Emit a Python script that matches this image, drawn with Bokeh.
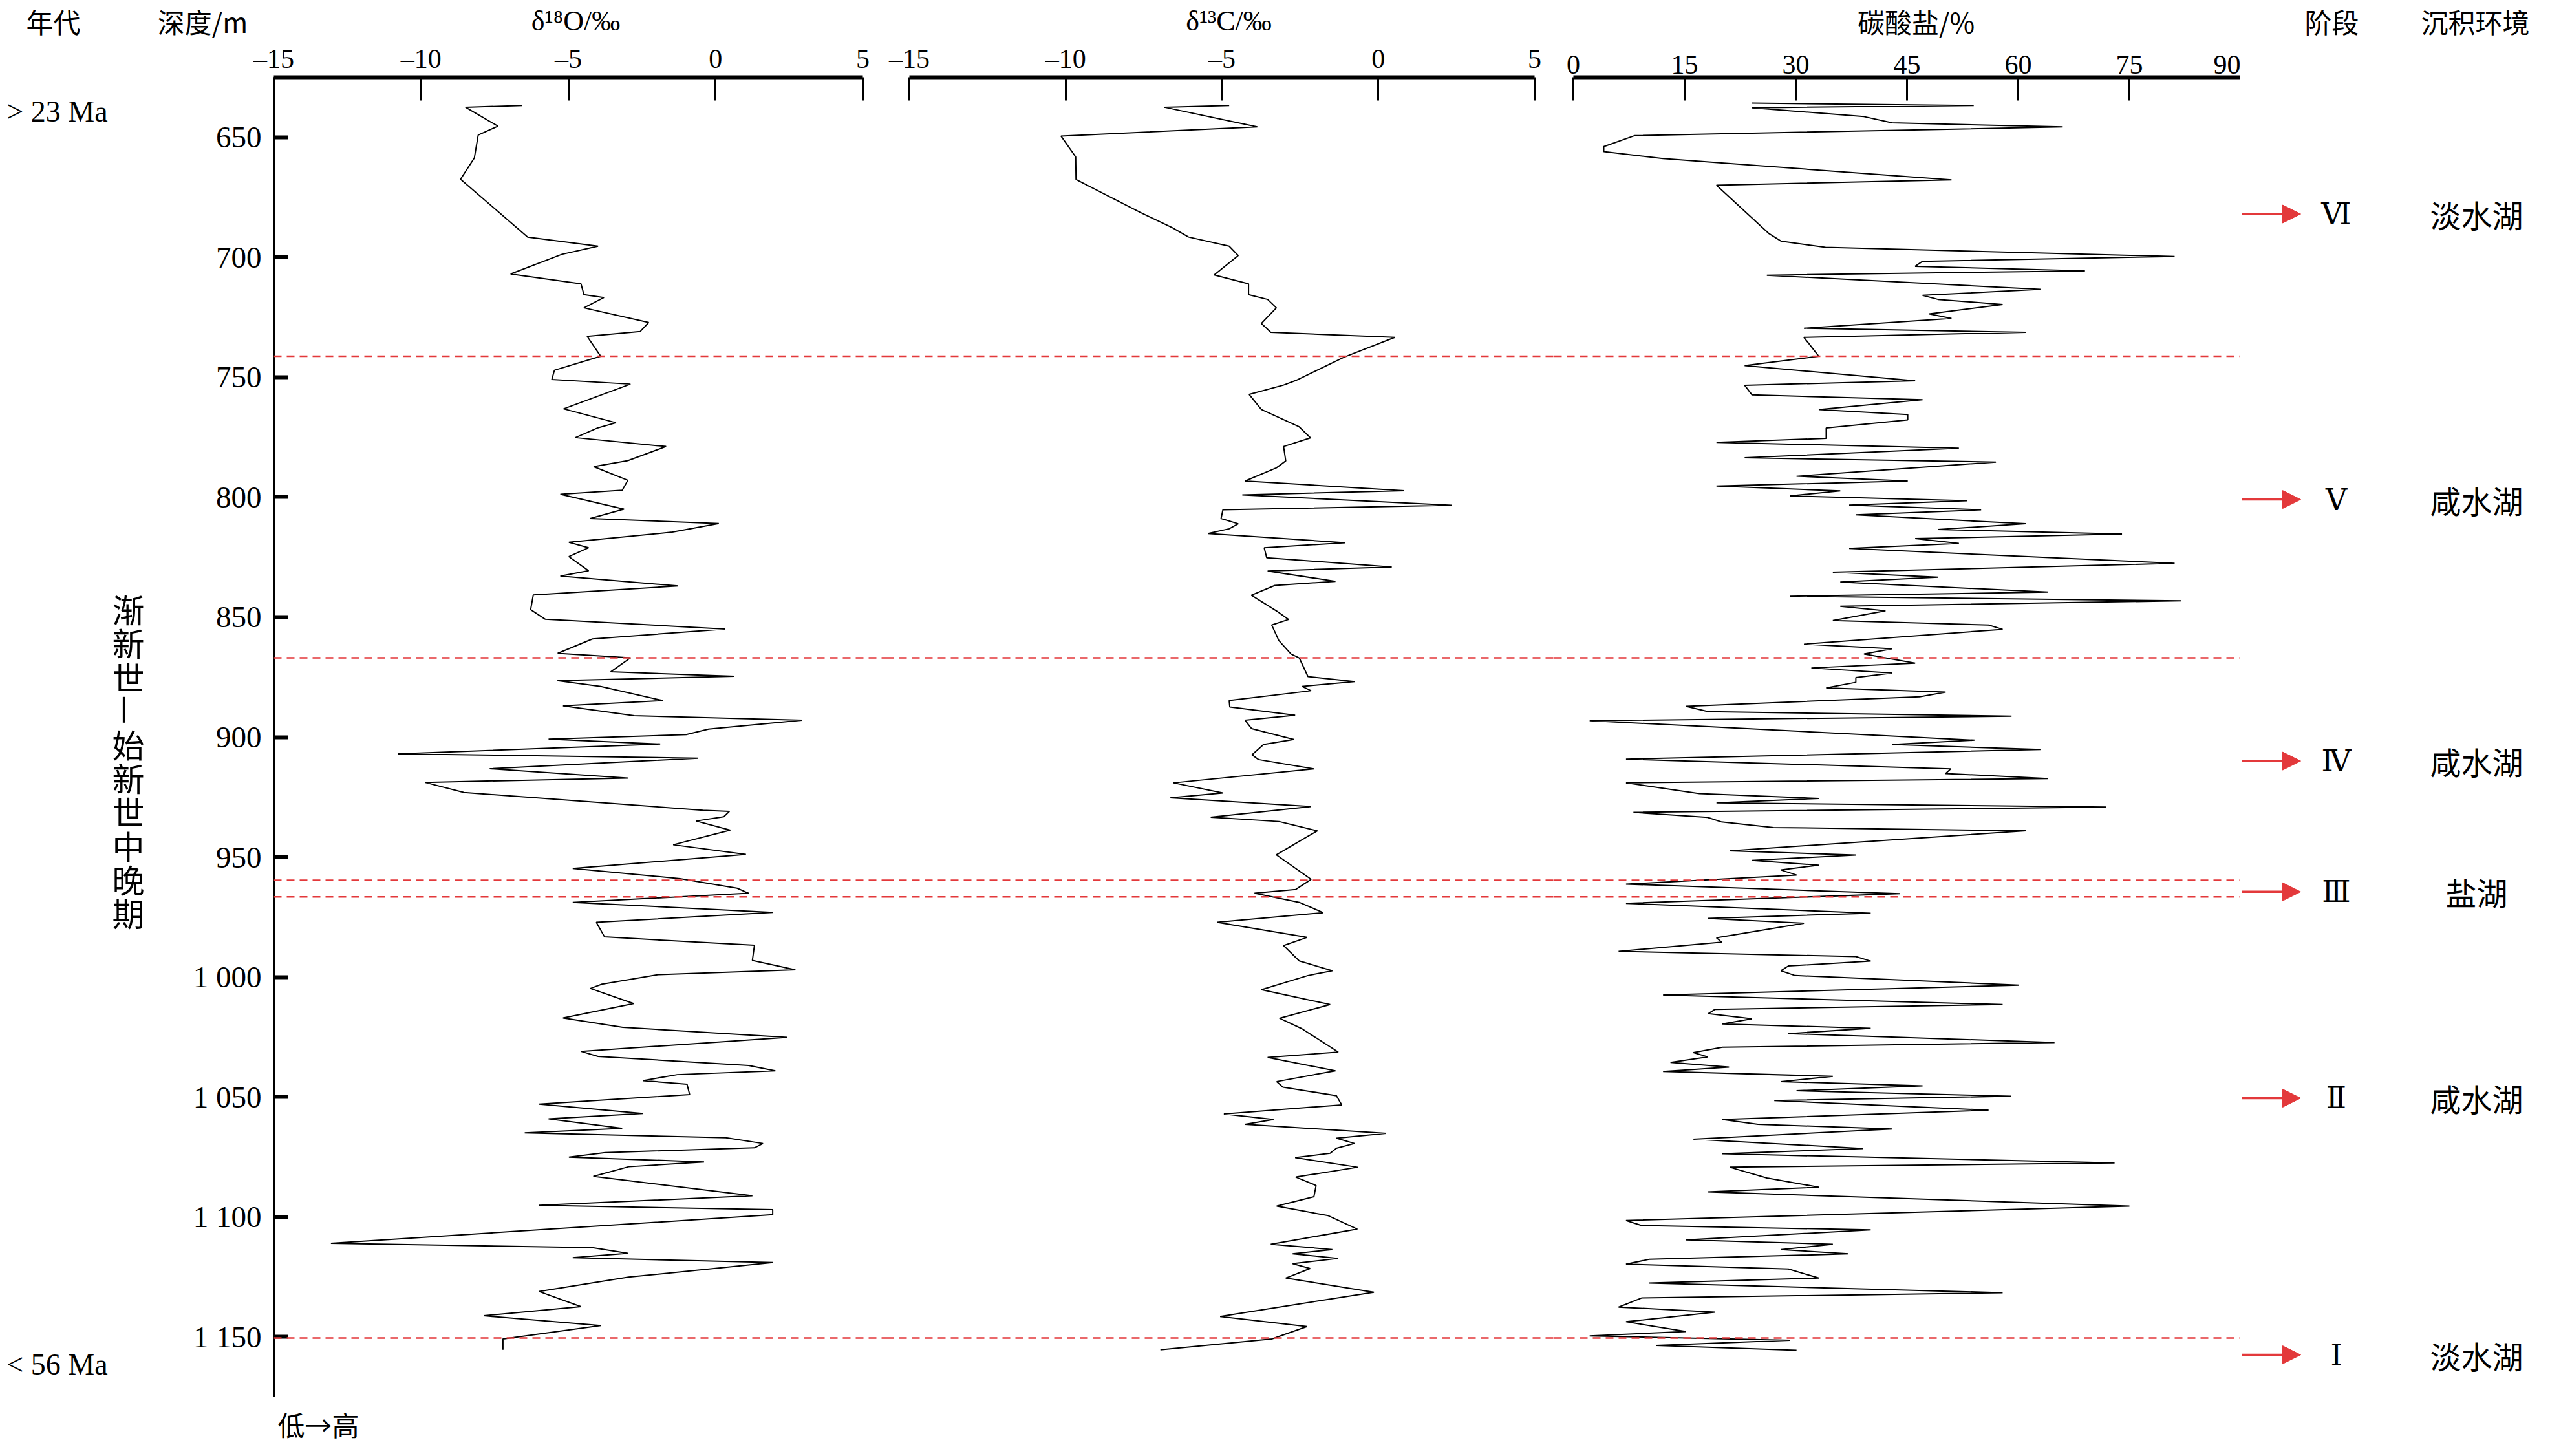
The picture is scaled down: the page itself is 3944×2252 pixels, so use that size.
import math
from bokeh.plotting import figure
from bokeh.layouts import row, column
from bokeh.models import Range1d, FixedTicker, Span, Arrow, NormalHead, ColumnDataSource
from bokeh.core.properties import value
from bokeh.embed import file_html
from bokeh.resources import INLINE

# ---------------- data ----------------
o18_depth = [636.8, 637.5, 645.4, 649.1, 658.6, 667.5, 691.6, 695.4, 698.8, 707.0, 711.1, 715.6, 716.8, 721.1,
             727.2, 731.0, 733.0, 741.3, 747.1, 751.0, 752.9, 763.2, 769.0, 771.1, 775.2, 778.9, 784.8, 787.3,
             793.0, 797.1, 798.8, 805.0, 808.9, 811.0, 814.6, 818.8, 821.1, 824.8, 830.7, 832.9, 837.0, 840.8,
             846.9, 850.9, 855.0, 859.1, 865.1, 867.0, 872.8, 874.7, 876.5, 878.9, 884.8, 887.0, 891.1, 893.0,
             896.7, 899.0, 900.9, 902.9, 907.0, 908.8, 913.2, 917.1, 918.9, 923.1, 930.5, 931.0, 933.2, 935.0,
             938.8, 944.9, 948.9, 954.8, 959.0, 963.0, 965.1, 968.9, 973.1, 977.2, 983.3, 986.8, 993.1, 997.0,
             999.0, 1003.0, 1004.8, 1011.1, 1017.1, 1021.0, 1025.2, 1031.0, 1033.1, 1036.9, 1039.1, 1040.7,
             1043.2, 1044.7, 1049.0, 1053.0, 1056.9, 1059.1, 1063.1, 1065.0, 1067.0, 1069.4, 1071.2, 1073.2,
             1075.1, 1077.1, 1079.1, 1083.1, 1091.2, 1095.2, 1097.0, 1099.1, 1111.0, 1112.8, 1115.2, 1117.0,
             1119.0, 1125.1, 1131.1, 1137.4, 1141.2, 1145.3, 1150.9, 1155.4]
o18 = [-6.57, -8.49, -7.39, -8.06, -8.19, -8.66, -6.38, -3.99, -5.22, -6.96, -4.57, -4.47, -3.79, -4.47,
       -2.27, -2.56, -4.36, -3.90, -5.47, -5.56, -2.89, -5.16, -3.38, -3.99, -4.76, -1.68, -2.98, -4.14,
       -2.98, -3.17, -5.27, -3.11, -4.26, 0.11, -1.47, -4.98, -4.31, -4.98, -4.31, -5.27, -1.27, -6.19,
       -6.28, -5.78, 0.33, -4.18, -5.36, -2.89, -3.56, 0.63, -5.37, -3.90, -1.79, -5.18, -2.76, 2.93,
       -0.24, -1.00, -5.67, -1.88, -10.78, -0.59, -7.67, -2.98, -9.87, -8.54, -0.43, 0.47, 0.28, -0.66,
       0.50, -1.44, 1.03, -4.85, -1.21, 0.73, 1.12, -4.85, 1.94, -4.05, -3.77, 1.32, 1.25, 2.71,
       -1.92, -3.86, -4.25, -2.78, -5.18, -3.15, 2.44, -4.57, -3.99, 1.12, 2.03, -1.30,
       -2.47, -0.97, -0.88, -5.99, -2.47, -5.67, -3.17, -6.48, 0.35, 1.61, 1.32, -3.75,
       -4.98, -0.39, -2.95, -4.15, 1.25, -5.99, 1.94, 1.94, -13.06, -4.18, -2.98, -4.85,
       1.94, -2.95, -5.99, -4.57, -7.87, -3.90, -7.22, -7.22]

c13_depth = [636.8, 637.5, 645.7, 649.5, 658.2, 667.6, 675.7, 681.3, 687.7, 691.6, 695.4, 699.3, 707.4, 711.1,
             715.6, 717.6, 721.1, 727.6, 731.3, 733.4, 741.6, 751.4, 753.3, 757.2, 763.5, 770.7, 775.3, 778.9,
             784.9, 787.8, 793.3, 797.3, 799.1, 803.4, 805.3, 808.9, 811.1, 813.2, 815.2, 819.0, 821.1, 825.3,
             829.1, 830.8, 835.1, 836.8, 840.9, 847.4, 851.0, 853.3, 859.8, 865.4, 867.0, 874.8, 876.9, 878.9,
             880.7, 884.8, 887.5, 890.9, 893.0, 896.5, 898.0, 901.0, 903.1, 907.4, 909.4, 913.3, 919.1, 923.3,
             925.3, 929.0, 933.4, 935.2, 939.1, 941.8, 949.1, 959.3, 963.5, 965.1, 968.9, 973.2, 977.2, 983.5,
             986.9, 993.3, 997.4, 999.4, 1005.3, 1011.5, 1017.2, 1021.6, 1031.3, 1033.5, 1039.1, 1043.6, 1045.9,
             1049.5, 1053.3, 1057.1, 1059.4, 1061.4, 1065.2, 1067.2, 1069.4, 1071.4, 1073.5, 1075.3, 1079.3,
             1083.4, 1086.9, 1091.6, 1095.5, 1099.5, 1105.1, 1111.4, 1113.6, 1115.4, 1117.3, 1119.5, 1121.5,
             1125.5, 1131.4, 1141.5, 1145.7, 1150.9, 1155.4]
c13 = [-4.77, -6.84, -3.87, -10.15, -9.68, -9.67, -8.46, -7.62, -6.59, -6.07, -4.77, -4.48, -5.25, -4.15,
       -4.15, -3.54, -3.26, -3.74, -3.44, 0.53, -1.08, -2.64, -3.03, -4.13, -3.74, -2.53, -2.17, -3.03,
       -2.96, -3.26, -4.26, 0.83, -4.35, 2.35, -4.97, -5.03, -4.48, -4.77, -5.45, -1.06, -3.65, -3.57,
       0.43, -3.54, -1.37, -3.31, -4.06, -3.26, -2.87, -3.41, -3.18, -2.79, -2.53, -2.25, -0.76, -2.44,
       -2.15, -4.77, -4.75, -2.66, -4.26, -4.05, -3.61, -2.70, -3.67, -4.04, -3.83, -2.06, -6.55, -4.97,
       -6.65, -2.15, -5.36, -3.18, -1.95, -2.31, -3.26, -2.15, -2.64, -3.96, -2.53, -1.76, -5.16, -2.28,
       -3.03, -2.53, -1.47, -2.25, -3.74, -1.54, -3.16, -2.44, -1.28, -3.54, -1.37, -3.25, -3.05,
       -1.34, -1.17, -4.94, -3.35, -4.26, 0.25, -1.34, -0.76, -1.34, -1.54, -2.66, -0.66,
       -2.64, -1.99, -2.06, -3.25, -1.60, -0.67, -3.44, -1.47, -2.74, -1.28, -2.74, -2.18,
       -2.96, -0.14, -5.06, -2.28, -3.41, -6.97]

carb_depth = [635.8, 636.8, 637.7, 641.4, 644.0, 645.7, 649.3, 653.9, 656.0, 658.9, 667.8, 670.0, 690.2, 693.3,
              695.9, 699.7, 701.7, 703.8, 705.7, 707.5, 713.4, 715.9, 717.6, 719.7, 723.6, 725.5, 729.6, 731.3,
              733.4, 741.3, 745.2, 751.5, 753.4, 757.4, 759.4, 763.5, 765.6, 767.8, 771.2, 775.5, 777.2, 779.6,
              783.6, 785.4, 791.3, 793.3, 795.4, 797.4, 799.5, 801.5, 803.3, 805.3, 807.4, 811.1, 813.5, 815.4,
              817.3, 819.3, 821.4, 827.6, 831.3, 833.4, 835.4, 839.6, 841.3, 843.2, 845.5, 847.4, 851.4, 853.3,
              855.1, 861.3, 863.2, 865.4, 869.2, 871.2, 873.3, 875.2, 877.2, 879.5, 881.3, 883.2, 887.2, 889.4,
              891.3, 893.2, 901.3, 903.1, 905.2, 909.2, 913.3, 915.2, 917.3, 919.1, 923.6, 925.6, 927.4, 929.2,
              931.4, 933.5, 935.4, 937.7, 939.1, 947.4, 949.2, 951.4, 953.4, 955.4, 957.5, 961.3, 965.3, 969.3,
              973.4, 975.6, 977.6, 983.7, 985.5, 989.3, 991.5, 993.4, 995.4, 997.4, 999.4, 1003.4, 1007.5,
              1011.5, 1013.5, 1015.3, 1017.4, 1019.6, 1021.4, 1023.6, 1027.3, 1029.3, 1031.5, 1033.3, 1035.6,
              1037.6, 1039.4, 1041.4, 1043.6, 1045.4, 1047.4, 1049.7, 1051.5, 1055.5, 1059.4, 1061.4, 1063.4,
              1067.6, 1071.5, 1073.7, 1077.5, 1079.3, 1083.8, 1087.6, 1089.6, 1095.5, 1101.5, 1103.6, 1105.4,
              1109.6, 1111.4, 1113.6, 1115.4, 1117.7, 1119.7, 1121.7, 1125.5, 1127.6, 1131.6, 1133.8, 1137.6,
              1139.7, 1143.7, 1147.8, 1149.6, 1151.4, 1153.6, 1155.6]
carb = [24.1, 54.0, 24.1, 39.2, 43.0, 66.0, 8.3, 4.1, 4.1, 12.1, 51.0, 19.3, 26.4, 28.0,
        34.0, 81.1, 47.1, 46.1, 69.0, 26.1, 63.0, 47.1, 49.2, 57.9, 48.0, 51.0, 31.1, 61.0,
        31.1, 33.1, 23.1, 46.1, 23.1, 24.1, 47.1, 33.1, 45.1, 45.1, 34.1, 34.1, 19.3, 52.0,
        23.1, 57.0, 30.1, 45.1, 19.3, 36.0, 29.2, 53.1, 37.2, 55.0, 38.1, 61.0, 49.2, 74.0,
        46.1, 52.0, 37.2, 81.1, 35.0, 49.2, 36.0, 64.0, 29.2, 82.0, 36.0, 42.1, 35.0, 56.0,
        57.9, 31.1, 43.0, 39.2, 46.1, 32.1, 43.0, 38.1, 38.1, 34.1, 50.2, 46.7, 15.2, 18.2,
        59.1, 2.2, 54.1, 43.0, 63.0, 7.1, 50.9, 50.2, 64.0, 7.1, 17.0, 33.1, 19.3, 71.9,
        8.1, 18.1, 20.0, 27.0, 61.0, 21.1, 38.1, 24.1, 33.1, 28.0, 30.1, 7.1, 44.0, 7.1,
        40.1, 18.1, 31.1, 19.3, 20.0, 6.1, 38.1, 40.1, 29.0, 28.0, 29.9, 60.1, 12.1,
        57.9, 19.1, 18.2, 24.1, 20.1, 40.1, 29.0, 64.9, 20.1, 16.2, 18.1, 13.1,
        21.0, 12.1, 35.0, 28.0, 47.1, 30.1, 59.0, 27.1, 56.0, 20.1, 24.9, 43.0,
        16.2, 39.1, 20.1, 73.0, 21.1, 26.1, 33.1, 18.1, 75.0, 7.1, 9.2, 40.1,
        15.2, 35.0, 28.0, 37.1, 10.2, 7.1, 29.0, 33.1, 10.2, 57.9, 9.2, 6.1,
        19.1, 7.1, 15.2, 2.2, 29.2, 11.2, 30.1]

depth_ticks = [650, 700, 750, 800, 850, 900, 950, 1000, 1050, 1100, 1150]
iso_ticks = [-15, -10, -5, 0, 5]
carb_ticks = [0, 15, 30, 45, 60, 75, 90]
boundaries = [741.3, 867.0, 959.7, 966.6, 1150.5]
stages = ["Ⅵ", "Ⅴ", "Ⅳ", "Ⅲ", "Ⅱ", "Ⅰ"]
stage_depths = [682.0, 801.0, 910.0, 964.5, 1050.5, 1157.5]
environments = ["淡水湖", "咸水湖", "咸水湖", "盐湖", "咸水湖", "淡水湖"]
epoch_text = "渐新世—始新世中晚期"
age_top, age_bottom = "> 23 Ma", "< 56 Ma"
headers = ["年代", "深度/m", "δ¹⁸O/‰", "δ¹³C/‰", "碳酸盐/%", "阶段", "沉积环境"]

# ---------------- style ----------------
SERIF = "Liberation Serif"
CJK = "Noto Sans CJK SC"
RED = "#E3393B"
W = 3928
HEAD_H, FOOT_H = 64, 76
TOP = 54
FRAME_H = 2042
MAIN_H = TOP + FRAME_H
MAIN_Y0 = 8 + HEAD_H            # page y where the main row starts
FOOT_Y0 = MAIN_Y0 + MAIN_H      # page y where the footer starts

yr = Range1d(1175, 625)


def blank(p):
    p.grid.visible = False
    p.outline_line_color = None
    p.background_fill_color = "white"
    p.border_fill_color = "white"
    return p


def make_fig(width, xr, left=0, axes=True):
    p = figure(width=width, height=MAIN_H, x_range=xr, y_range=yr, output_backend="svg",
               toolbar_location=None,
               x_axis_location="above" if axes else None,
               x_axis_type="linear" if axes else None,
               y_axis_type="linear" if left else None,
               min_border_left=left, min_border_right=0, min_border_top=TOP,
               min_border_bottom=0)
    return blank(p)


def style_top(ax, ticks, bounds, overrides):
    ax.ticker = FixedTicker(ticks=ticks)
    ax.bounds = bounds
    ax.major_label_overrides = overrides
    ax.axis_line_width = 6
    ax.axis_line_color = "black"
    ax.axis_line_cap = "butt"
    ax.major_tick_in = 36
    ax.major_tick_out = 0
    ax.major_tick_line_width = 3
    ax.major_tick_line_color = "black"
    ax.minor_tick_line_color = None
    ax.major_label_text_font = SERIF
    ax.major_label_text_font_size = "42px"
    ax.major_label_text_color = "black"
    ax.major_label_standoff = 6


def add_bounds(p):
    for d in boundaries:
        p.add_layout(Span(location=d, dimension="width", line_color=RED,
                          line_width=2.5, line_dash="12 8"))


def txt(p, x, y, text, font=CJK, size="48px", align="center", baseline="middle", angle=0.0):
    p.text(x=x, y=y, text=text, text_font=value(font), text_font_size=size,
           text_align=align, text_baseline=baseline, text_color="black", angle=angle)


iso_over = {t: str(t).replace("-", "–") for t in iso_ticks}

# ---- header strip (page pixels) ----
head = blank(figure(width=W, height=HEAD_H, x_range=Range1d(8, 8 + W), y_range=Range1d(MAIN_Y0, 8),
                    output_backend="svg", toolbar_location=None, x_axis_type=None, y_axis_type=None,
                    min_border=0))
head_x = [90, 321, 898, 1908, 2971, 3614, 3836]
for hx, ht in zip(head_x, headers):
    if ht.startswith("δ"):
        txt(head, [hx], [40], [ht], font=SERIF, size="44px")
    else:
        txt(head, [hx], [40], [ht], size="42px")

# ---- left column: age ----
p0 = make_fig(270, Range1d(8, 278), axes=False)
txt(p0, [96], [639.3], [age_top], font=SERIF, size="46px")
txt(p0, [96], [1161.4], [age_bottom], font=SERIF, size="46px")
for i, ch in enumerate(epoch_text):
    txt(p0, [206], [846.4 + i * 14.07], [ch], size="50px",
        angle=(-math.pi / 2 if ch == "—" else 0.0))

# ---- panel 1: d18O ----
p1 = make_fig(1100, Range1d(-15, 5.79), left=153)
style_top(p1.xaxis[0], iso_ticks, (-15, 5), iso_over)
ya = p1.yaxis[0]
ya.ticker = FixedTicker(ticks=depth_ticks)
ya.major_label_overrides = {t: (f"{t // 1000} {t % 1000:03d}" if t >= 1000 else str(t)) for t in depth_ticks}
ya.axis_line_width = 3
ya.axis_line_color = "black"
ya.major_tick_in = 22
ya.major_tick_out = 0
ya.major_tick_line_width = 6
ya.major_tick_line_color = "black"
ya.minor_tick_line_color = None
ya.major_label_text_font = SERIF
ya.major_label_text_font_size = "47px"
ya.major_label_text_color = "black"
ya.major_label_standoff = 19
add_bounds(p1)
p1.line(o18, o18_depth, line_color="black", line_width=2)

# ---- panel 2: d13C ----
p2 = make_fig(1033, Range1d(-15.745, 5.62))
style_top(p2.xaxis[0], iso_ticks, (-15, 5), iso_over)
add_bounds(p2)
p2.line(c13, c13_depth, line_color="black", line_width=2)

# ---- panel 3: carbonate ----
p3 = make_fig(1062, Range1d(-2.616, 90))
style_top(p3.xaxis[0], carb_ticks, (0, 90), {t: str(t) for t in carb_ticks})
add_bounds(p3)
p3.line(carb, carb_depth, line_color="black", line_width=2)

# ---- panel 4: stages / environment ----
p4 = make_fig(463, Range1d(0, 463), axes=False)
arrow_src = ColumnDataSource(dict(x0=[2] * len(stage_depths), x1=[93] * len(stage_depths), y=stage_depths))
p4.add_layout(Arrow(end=NormalHead(size=28, fill_color=RED, line_color=RED, line_width=1),
                    source=arrow_src, x_start="x0", y_start="y", x_end="x1", y_end="y",
                    line_color=RED, line_width=3.5))
p4.text(x=148, y=stage_depths, text=stages, text_font=value("DejaVu Serif"), text_font_size="46px",
        text_align="center", text_baseline="middle", text_color="black")
p4.text(x=365, y=stage_depths, text=environments, text_font=value(CJK), text_font_size="48px",
        text_align="center", text_baseline="middle", text_color="black")

# ---- footer strip ----
foot = blank(figure(width=W, height=FOOT_H, x_range=Range1d(8, 8 + W),
                    y_range=Range1d(FOOT_Y0 + FOOT_H, FOOT_Y0),
                    output_backend="svg", toolbar_location=None, x_axis_type=None, y_axis_type=None,
                    min_border=0))
txt(foot, [437], [FOOT_Y0 + 42], ["低→高"], size="42px", align="left")

layout = column(head, row(p0, p1, p2, p3, p4), foot)
open("out.html", "w").write(file_html(layout, INLINE))
